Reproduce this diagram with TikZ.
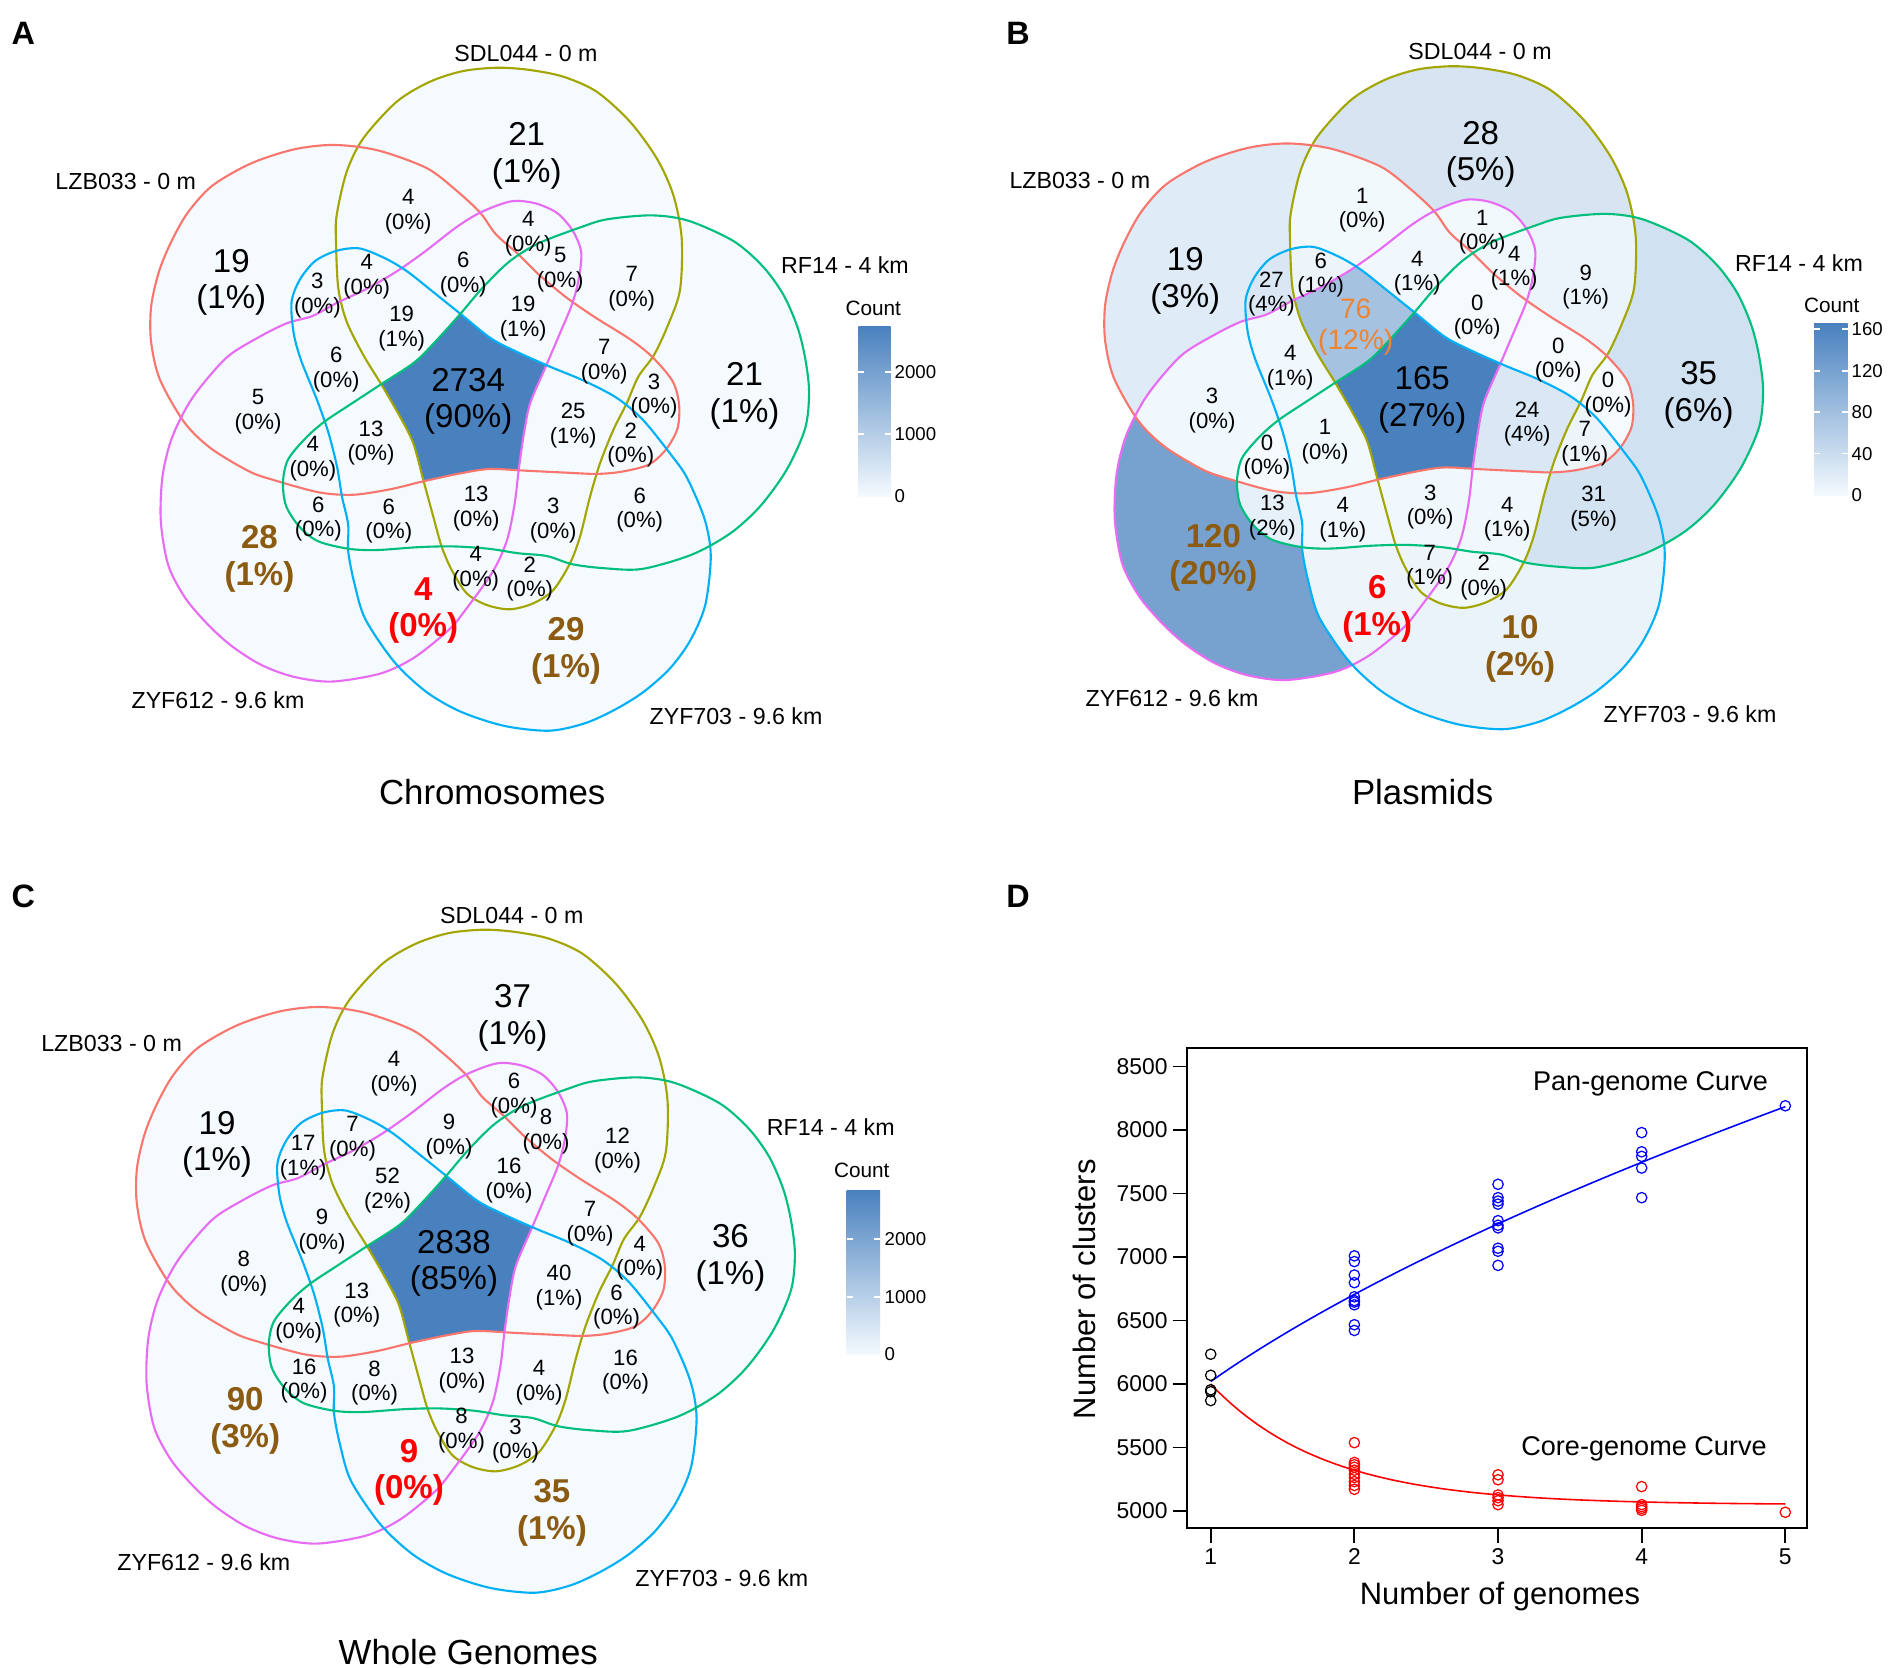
\documentclass[tikz,border=0pt]{standalone}
\usepackage{fontspec}
\setmainfont{Liberation Sans}

\definecolor{lowc}{HTML}{F4FAFE}
\definecolor{highc}{HTML}{4981BF}
\definecolor{cO}{HTML}{A3A500}
\definecolor{cR}{HTML}{F8766D}
\definecolor{cM}{HTML}{E76BF3}
\definecolor{cB}{HTML}{00B0F6}
\definecolor{cG}{HTML}{00BF7D}
\definecolor{brownlab}{HTML}{8C5B12}
\definecolor{orangelab}{HTML}{F0832E}

% one egg (SDL044), centre of the venn at (0,0); the others are turned by 72 degrees
\newcommand\eggpath{plot[smooth cycle] coordinates {(29.1,-335.8) (60.8,-333.5) (94.1,-326.8) (127.5,-311.8) (160.8,-281.8) (187.5,-245.2) (204.1,-208.5) (212.5,-165.2) (210.8,-113.5) (198.8,-78.5) (184.8,-48.5) (169.1,-26.8) (157.5,-0.2) (144.1,26.5) (130.8,59.8) (120.8,93.2) (110.8,133.2) (100.8,159.8) (84.1,186.5) (64.1,199.8) (40.8,205.8) (17.5,201.5) (-2.5,189.8) (-17.5,166.5) (-27.5,143.2) (-35.9,113.2) (-45.9,76.5) (-55.9,39.8) (-69.2,13.2) (-87.5,-18.5) (-105.9,-48.5) (-122.5,-81.8) (-130.9,-115.2) (-133.2,-161.8) (-132.5,-188.5) (-122.5,-231.8) (-105.9,-265.2) (-72.5,-301.8) (-39.2,-321.8) (-5.9,-332.5)}}

% set k of the venn: 0 SDL044, 1 LZB033, 2 ZYF612, 3 ZYF703, 4 RF14
\tikzset{vshape/.code={\ifcase#1\or\tikzset{rotate=72}\or
  \tikzset{rotate around={-2.3:(88,-190.5)}, rotate=144}\or
  \tikzset{rotate=216}\or\tikzset{rotate=288}\fi}}

% fill the intersection of the listed sets
\makeatletter
\newcommand\vregion[2]{%
  \begin{scope}
    \@for\vk:=#1\do{\clip[vshape=\vk] \eggpath;}%
    \fill[highc!#2!lowc] (-400,-400) rectangle (400,400);
  \end{scope}}
\makeatother

\newcommand\voutline{%
  \foreach \k/\c in {0/cO,1/cR,2/cM,3/cB,4/cG}
    \draw[vline, \c, vshape=\k] \eggpath;}

\newcommand\vcoords[1]{%
  \coordinate (#1-all) at (-1,-2);
  \coordinate (#1-o) at (57.5,-247.5);
  \coordinate (#1-r) at (-237.9,-121.2);
  \coordinate (#1-g) at (275.4,-7.4);
  \coordinate (#1-m) at (-209.8,155.6);
  \coordinate (#1-b) at (96.9,247.1);
  \coordinate (#1-mb) at (-46,206.9);
  \coordinate (#1-or) at (-61,-192);
  \coordinate (#1-om) at (59,-170);
  \coordinate (#1-gom) at (91,-134);
  \coordinate (#1-go) at (162.5,-115);
  \coordinate (#1-rb) at (-151.8,-107.8);
  \coordinate (#1-orb) at (-102.5,-127);
  \coordinate (#1-orm) at (-6,-129);
  \coordinate (#1-ormb) at (-67.5,-75);
  \coordinate (#1-ormg) at (54,-85);
  \coordinate (#1-rmb) at (-133,-34.2);
  \coordinate (#1-gor) at (135,-42);
  \coordinate (#1-gr) at (184.8,-7.4);
  \coordinate (#1-rm) at (-211.2,8.3);
  \coordinate (#1-orbg) at (104,22);
  \coordinate (#1-bgr) at (161.6,41.7);
  \coordinate (#1-rmbg) at (-98.2,39.5);
  \coordinate (#1-rmg) at (-156.3,55.1);
  \coordinate (#1-mg) at (-150.9,115.4);
  \coordinate (#1-mbg) at (-80.4,117.6);
  \coordinate (#1-ombg) at (7,105);
  \coordinate (#1-bgo) at (84,117);
  \coordinate (#1-bg) at (170.5,106.5);
  \coordinate (#1-mbo) at (6.5,165);
  \coordinate (#1-bo) at (60.5,175.5);
}

\newcommand\vsets[1]{%
  \node[setname] (#1-sdl) at (56.8,-350.1) {SDL044 - 0 m};
  \node[setname] (#1-lzb) at (-343.4,-221.8) {LZB033 - 0 m};
  \node[setname] (#1-rf) at (375.8,-138.5) {RF14 - 4 km};
  \node[setname] (#1-z612) at (-251.2,296.5) {ZYF612 - 9.6 km};
  \node[setname] (#1-z703) at (266.8,312.5) {ZYF703 - 9.6 km};
}

\newcommand\vlab[4][cnt]{\node[#1] (#2-l) at (#2) {#3\\(#4\%)};}

\newcommand\plx[1]{1210.7+143.65*(#1-1)}
\newcommand\ply[1]{1511.1-0.12706*(#1-5000)}

\tikzset{
  cnt/.style={align=center, inner sep=0pt, font=\fontsize{6.3}{7}\selectfont},
  cntbig/.style={align=center, inner sep=0pt, font=\fontsize{9.4}{10.4}\selectfont},
  cnthi/.style={cntbig, text=brownlab, font=\fontsize{9.4}{10.4}\selectfont\bfseries},
  cntred/.style={cnthi, text=red},
  cntorange/.style={align=center, inner sep=0pt, text=orangelab, font=\fontsize{8}{8.6}\selectfont},
  setname/.style={inner sep=0pt, font=\fontsize{6.6}{8}\selectfont},
  paneltag/.style={inner sep=0pt, font=\fontsize{9.2}{11}\selectfont\bfseries},
  vtitle/.style={inner sep=0pt, font=\fontsize{9.9}{12}\selectfont},
  legtitle/.style={inner sep=0pt, font=\fontsize{5.9}{7}\selectfont},
  legnum/.style={inner sep=0pt, anchor=west, font=\fontsize{5.3}{6}\selectfont},
  legtick/.style={white, line width=0.5pt},
  vline/.style={line width=0.6pt},
  ticklab/.style={inner sep=0pt, font=\fontsize{6.5}{8}\selectfont},
  axlab/.style={inner sep=0pt, font=\fontsize{8.8}{10}\selectfont},
  curvelab/.style={inner sep=0pt, font=\fontsize{7.7}{9}\selectfont},
  pt/.style={line width=0.35pt},
}

\begin{document}
\begin{tikzpicture}[x=0.01cm, y=-0.01cm]
\fill[white] (0,0) rectangle (1892,1667);
\useasboundingbox (0,0) rectangle (1892,1667);

%% A: chromosomes
\node[paneltag] (tagA) at (23.3,33.3) {A};
\begin{scope}[shift={(469.2,403.5)}]
  \foreach \k in {0,...,4} \fill[lowc, vshape=\k] \eggpath;
  \vregion{0,1,2,3,4}{100}
  \voutline
  \vcoords{a}
  \vlab[cntbig]{a-all}{2734}{90}
  \vlab[cntbig]{a-o}{21}{1}
  \vlab[cntbig]{a-r}{19}{1}
  \vlab[cntbig]{a-g}{21}{1}
  \vlab[cnthi]{a-m}{28}{1}
  \vlab[cnthi]{a-b}{29}{1}
  \vlab[cntred]{a-mb}{4}{0}
  \vlab{a-or}{4}{0}
  \vlab{a-om}{4}{0}
  \vlab{a-gom}{5}{0}
  \vlab{a-go}{7}{0}
  \vlab{a-rb}{3}{0}
  \vlab{a-orb}{4}{0}
  \vlab{a-orm}{6}{0}
  \vlab{a-ormb}{19}{1}
  \vlab{a-ormg}{19}{1}
  \vlab{a-rmb}{6}{0}
  \vlab{a-gor}{7}{0}
  \vlab{a-gr}{3}{0}
  \vlab{a-rm}{5}{0}
  \vlab{a-orbg}{25}{1}
  \vlab{a-bgr}{2}{0}
  \vlab{a-rmbg}{13}{0}
  \vlab{a-rmg}{4}{0}
  \vlab{a-mg}{6}{0}
  \vlab{a-mbg}{6}{0}
  \vlab{a-ombg}{13}{0}
  \vlab{a-bgo}{3}{0}
  \vlab{a-bg}{6}{0}
  \vlab{a-mbo}{4}{0}
  \vlab{a-bo}{2}{0}
  \vsets{a}
\end{scope}
\node[vtitle] (titleA) at (492.2,792) {Chromosomes};
% legend A
\shade[bottom color=lowc, top color=highc] (858.3,326.5) rectangle (890.7,496.3);
\foreach \v/\y in {1000/434,2000/371.7} {
  \draw[legtick] (858.3,\y) -- (864,\y) (885,\y) -- (890.7,\y);
  \node[legnum] (legA\v) at (894,\y) {\v};
}
\node[legnum] (legA0) at (894,496.3) {0};
\node[legtitle] (countA) at (873.3,308.3) {Count};

%% B: plasmids
\node[paneltag] (tagB) at (1018,33.3) {B};
\begin{scope}[shift={(1423.2,402)}]
  \vregion{0}{17}\vregion{1}{12}\vregion{2}{73}\vregion{3}{6}\vregion{4}{21}
  \vregion{0,1}{1}\vregion{0,2}{1}\vregion{0,3}{1}\vregion{0,4}{5}\vregion{1,2}{2}
  \vregion{1,3}{16}\vregion{1,4}{0}\vregion{2,3}{4}\vregion{2,4}{8}\vregion{3,4}{19}
  \vregion{0,1,2}{2}\vregion{0,1,3}{4}\vregion{0,1,4}{0}\vregion{0,2,3}{4}\vregion{0,2,4}{2}
  \vregion{0,3,4}{2}\vregion{1,2,3}{2}\vregion{1,2,4}{0}\vregion{1,3,4}{4}\vregion{2,3,4}{2}
  \vregion{0,1,2,3}{46}\vregion{0,1,2,4}{0}\vregion{0,1,3,4}{15}\vregion{0,2,3,4}{2}\vregion{1,2,3,4}{1}
  \vregion{0,1,2,3,4}{100}
  \voutline
  \vcoords{b}
  \vlab[cntbig]{b-all}{165}{27}
  \vlab[cntbig]{b-o}{28}{5}
  \vlab[cntbig]{b-r}{19}{3}
  \vlab[cntbig]{b-g}{35}{6}
  \vlab[cnthi]{b-m}{120}{20}
  \vlab[cnthi]{b-b}{10}{2}
  \vlab[cntred]{b-mb}{6}{1}
  \vlab{b-or}{1}{0}
  \vlab{b-om}{1}{0}
  \vlab{b-gom}{4}{1}
  \vlab{b-go}{9}{1}
  \vlab{b-rb}{27}{4}
  \vlab{b-orb}{6}{1}
  \vlab{b-orm}{4}{1}
  \vlab[cntorange]{b-ormb}{76}{12}
  \vlab{b-ormg}{0}{0}
  \vlab{b-rmb}{4}{1}
  \vlab{b-gor}{0}{0}
  \vlab{b-gr}{0}{0}
  \vlab{b-rm}{3}{0}
  \vlab{b-orbg}{24}{4}
  \vlab{b-bgr}{7}{1}
  \vlab{b-rmbg}{1}{0}
  \vlab{b-rmg}{0}{0}
  \vlab{b-mg}{13}{2}
  \vlab{b-mbg}{4}{1}
  \vlab{b-ombg}{3}{0}
  \vlab{b-bgo}{4}{1}
  \vlab{b-bg}{31}{5}
  \vlab{b-mbo}{7}{1}
  \vlab{b-bo}{2}{0}
  \vsets{b}
\end{scope}
\node[vtitle] (titleB) at (1422.6,792) {Plasmids};
% legend B
\shade[bottom color=lowc, top color=highc] (1814,324) rectangle (1847.7,495);
\foreach \v/\y in {40/453.6,80/412.1,120/370.7,160/329.2} {
  \draw[legtick] (1814,\y) -- (1820,\y) (1841.7,\y) -- (1847.7,\y);
  \node[legnum] (legB\v) at (1851,\y) {\v};
}
\node[legnum] (legB0) at (1851,495) {0};
\node[legtitle] (countB) at (1831.7,305) {Count};

%% C: whole genomes
\node[paneltag] (tagC) at (23.3,896.5) {C};
\begin{scope}[shift={(455,1265.5)}]
  \foreach \k in {0,...,4} \fill[lowc, vshape=\k] \eggpath;
  \vregion{0,1,2,3,4}{100}
  \voutline
  \vcoords{c}
  \vlab[cntbig]{c-all}{2838}{85}
  \vlab[cntbig]{c-o}{37}{1}
  \vlab[cntbig]{c-r}{19}{1}
  \vlab[cntbig]{c-g}{36}{1}
  \vlab[cnthi]{c-m}{90}{3}
  \vlab[cnthi]{c-b}{35}{1}
  \vlab[cntred]{c-mb}{9}{0}
  \vlab{c-or}{4}{0}
  \vlab{c-om}{6}{0}
  \vlab{c-gom}{8}{0}
  \vlab{c-go}{12}{0}
  \vlab{c-rb}{17}{1}
  \vlab{c-orb}{7}{0}
  \vlab{c-orm}{9}{0}
  \vlab{c-ormb}{52}{2}
  \vlab{c-ormg}{16}{0}
  \vlab{c-rmb}{9}{0}
  \vlab{c-gor}{7}{0}
  \vlab{c-gr}{4}{0}
  \vlab{c-rm}{8}{0}
  \vlab{c-orbg}{40}{1}
  \vlab{c-bgr}{6}{0}
  \vlab{c-rmbg}{13}{0}
  \vlab{c-rmg}{4}{0}
  \vlab{c-mg}{16}{0}
  \vlab{c-mbg}{8}{0}
  \vlab{c-ombg}{13}{0}
  \vlab{c-bgo}{4}{0}
  \vlab{c-bg}{16}{0}
  \vlab{c-mbo}{8}{0}
  \vlab{c-bo}{3}{0}
  \vsets{c}
\end{scope}
\node[vtitle] (titleC) at (468.3,1651.7) {Whole Genomes};
% legend C
\shade[bottom color=lowc, top color=highc] (846.7,1190) rectangle (880,1354.4);
\foreach \v/\y in {1000/1296.7,2000/1239} {
  \draw[legtick] (846.7,\y) -- (852.5,\y) (874.2,\y) -- (880,\y);
  \node[legnum] (legC\v) at (884,\y) {\v};
}
\node[legnum] (legC0) at (884,1354.4) {0};
\node[legtitle] (countC) at (861.7,1170) {Count};

%% D: pan / core genome curves
\node[paneltag] (tagD) at (1018,896.5) {D};
\draw[line width=0.6pt] (1186.8,1048.4) rectangle (1807.2,1528.3);
\foreach \v in {5000,5500,...,8500}
  \draw[line width=0.5pt] (1186.8,{\ply{\v}}) -- (1173.4,{\ply{\v}})
    node[ticklab, anchor=east, xshift=-0.5mm] (yt\v) {\v};
\foreach \n in {1,...,5}
  \draw[line width=0.5pt] ({\plx{\n}},1528.3) -- ({\plx{\n}},1543)
    node[ticklab, anchor=north, yshift=-0.5mm] (xt\n) {\n};
\node[axlab] (xlab) at (1500,1596.4) {Number of genomes};
\node[axlab, rotate=90] (ylab) at (1084.8,1289.3) {Number of clusters};

\draw[blue, line width=0.45pt] plot[domain=1:5, samples=60, smooth] ({\plx{\x}},{\ply{1330*\x^0.6+4690}});
\draw[red, line width=0.45pt] plot[domain=1:5, samples=60, smooth] ({\plx{\x}},{\ply{3316*exp(-1.25*\x)+5050}});

\foreach \v in {6235,6069,5955,5940,5870}
  \draw[pt] ({\plx{1}},{\ply{\v}}) circle[radius=0.52mm];
\foreach \n/\vals in {2/{7009,6964,6858,6798,6687,6657,6645,6624,6467,6422},
    3/{7572,7467,7440,7416,7286,7250,7229,7069,7045,6934},
    4/{7979,7828,7792,7700,7467}, 5/{8190}}
  \foreach \v in \vals
    \draw[pt, blue] ({\plx{\n}},{\ply{\v}}) circle[radius=0.52mm];
\foreach \n/\vals in {2/{5539,5383,5365,5345,5322,5290,5265,5232,5202,5172},
    3/{5286,5247,5127,5106,5082,5051},
    4/{5193,5051,5035,5021,5006}, 5/{4991}}
  \foreach \v in \vals
    \draw[pt, red] ({\plx{\n}},{\ply{\v}}) circle[radius=0.52mm];

\node[curvelab] (panlab) at (1650.5,1083.6) {Pan-genome Curve};
\node[curvelab] (corelab) at (1644,1449) {Core-genome Curve};
\end{tikzpicture}
\end{document}
